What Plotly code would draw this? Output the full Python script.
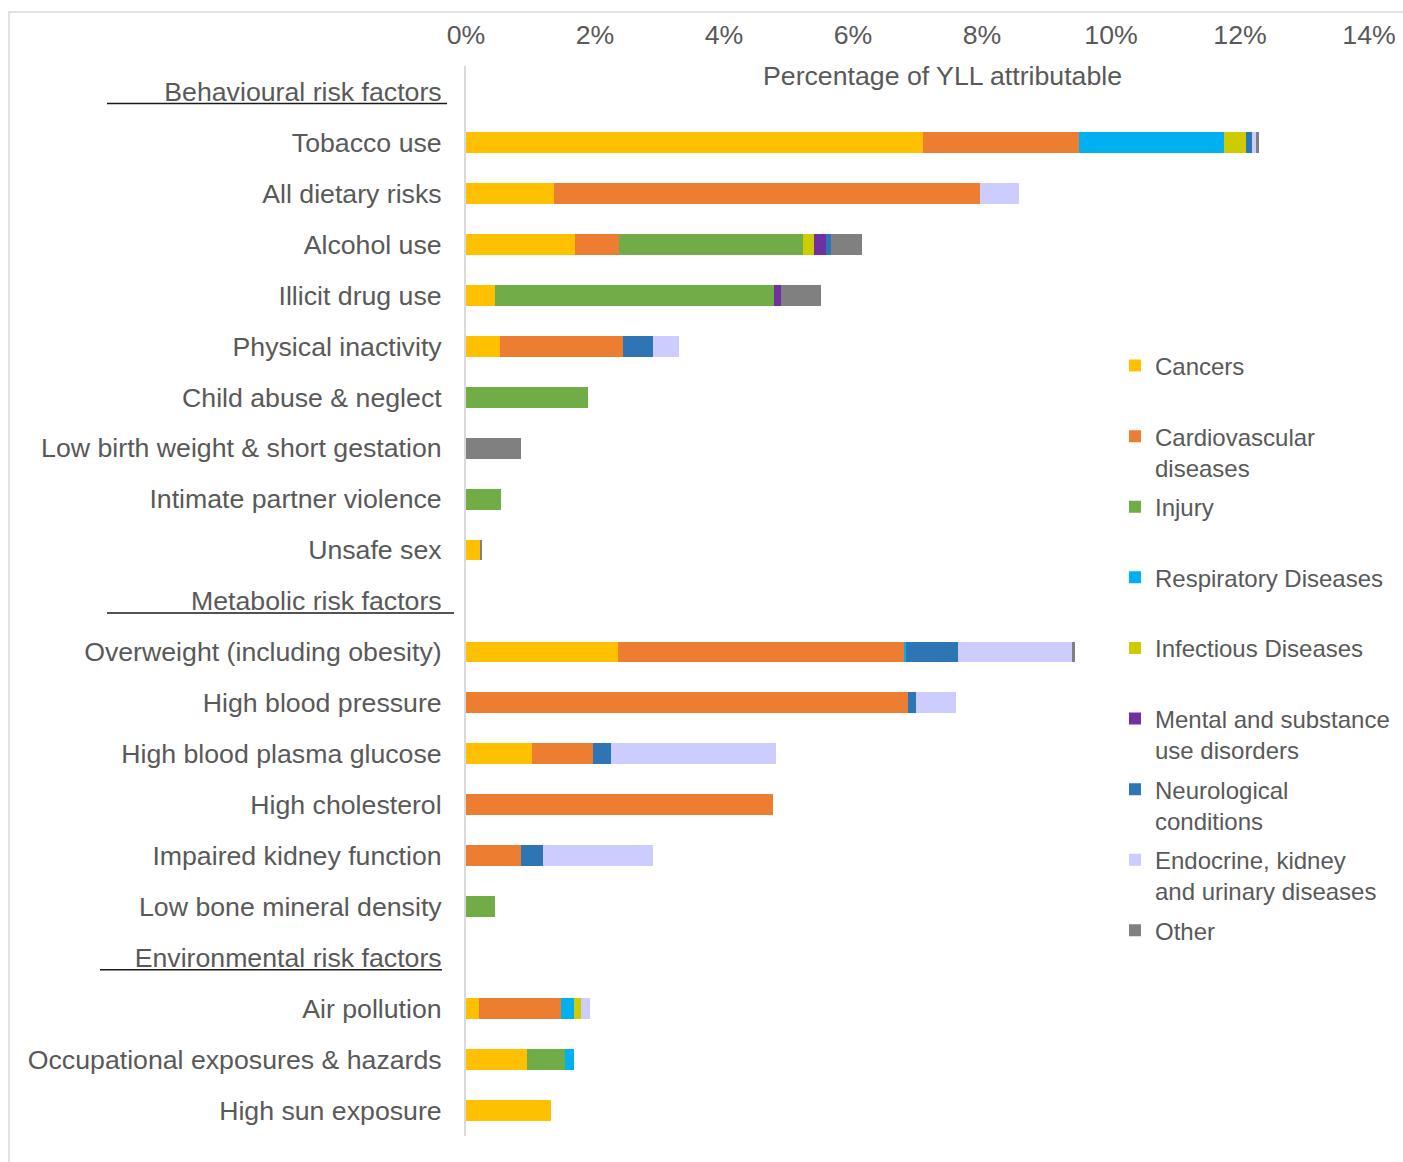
import plotly.graph_objects as go

categories = ["Behavioural risk factors", "Tobacco use", "All dietary risks", "Alcohol use",
              "Illicit drug use", "Physical inactivity", "Child abuse & neglect",
              "Low birth weight & short gestation", "Intimate partner violence", "Unsafe sex",
              "Metabolic risk factors", "Overweight (including obesity)", "High blood pressure",
              "High blood plasma glucose", "High cholesterol", "Impaired kidney function",
              "Low bone mineral density", "Environmental risk factors", "Air pollution",
              "Occupational exposures & hazards", "High sun exposure"]

cancers    = [None, 7.09, 1.37, 1.685, 0.45, 0.52, 0, 0, 0, 0.23, None, 2.36, 0, 1.03, 0, 0, 0, None, 0.20, 0.95, 1.31]
cardio     = [None, 2.42, 6.60, 0.68, 0, 1.92, 0, 0, 0, 0, None, 4.44, 6.86, 0.94, 4.76, 0.86, 0, None, 1.27, 0, 0]
injury     = [None, 0, 0, 2.86, 4.33, 0, 1.89, 0, 0.55, 0, None, 0, 0, 0, 0, 0, 0.45, None, 0, 0.59, 0]
respiratory = [None, 2.24, 0, 0, 0, 0, 0, 0, 0, 0, None, 0.025, 0, 0, 0, 0, 0, None, 0.21, 0.135, 0]
infectious = [None, 0.34, 0, 0.175, 0, 0, 0, 0, 0, 0, None, 0, 0, 0, 0, 0, 0, None, 0.11, 0, 0]
mental     = [None, 0, 0, 0.175, 0.10, 0, 0, 0, 0, 0, None, 0, 0, 0, 0, 0, 0, None, 0, 0, 0]
neuro      = [None, 0.10, 0, 0.08, 0, 0.465, 0, 0, 0, 0, None, 0.80, 0.12, 0.28, 0, 0.33, 0, None, 0, 0, 0]
endocrine  = [None, 0.07, 0.61, 0, 0, 0.39, 0, 0, 0, 0, None, 1.77, 0.62, 2.56, 0, 1.71, 0, None, 0.135, 0, 0]
other      = [None, 0.03, 0, 0.49, 0.62, 0, 0, 0.85, 0, 0.02, None, 0.047, 0, 0, 0, 0, 0, None, 0, 0, 0]

series_names = ["Cancers<br> ", "Cardiovascular<br>diseases", "Injury<br> ", "Respiratory Diseases<br> ",
                "Infectious Diseases<br> ", "Mental and substance<br>use disorders",
                "Neurological<br>conditions", "Endocrine, kidney<br>and urinary diseases", "Other<br> "]
series_values = [cancers, cardio, injury, respiratory, infectious, mental, neuro, endocrine, other]
series_colors = ["#FFC000", "#ED7D31", "#70AD47", "#00B0F0", "#CCCC00", "#7030A0", "#2E75B6", "#CCCCFF", "#808080"]

FONT = "Liberation Sans, Arial, sans-serif"
TXT = "#595959"
FS = 26.7

fig = go.Figure()
for i, (name, vals, col) in enumerate(zip(series_names, series_values, series_colors)):
    fig.add_trace(go.Bar(
        y=categories, x=vals, name=name, orientation="h",
        marker=dict(color=col, line=dict(width=0)),
        legendgroup="g%d" % i,
    ))

shapes = [
    dict(type="rect", xref="paper", yref="paper", x0=-0.5061, x1=1.06, y0=-0.05, y1=1.0504,
         line=dict(color="#d9d9d9", width=1.5), layer="below"),
    dict(type="line", xref="paper", yref="y", x0=-0.3976, x1=-0.0210, y0=0.235, y1=0.235,
         line=dict(color="#1a1a1a", width=1.5)),
    dict(type="line", xref="paper", yref="y", x0=-0.3976, x1=-0.0133, y0=10.235, y1=10.235,
         line=dict(color="#1a1a1a", width=1.5)),
    dict(type="line", xref="paper", yref="y", x0=-0.4053, x1=-0.0266, y0=17.235, y1=17.235,
         line=dict(color="#1a1a1a", width=1.5)),
]

fig.update_layout(
    width=1403, height=1162,
    margin=dict(l=466, r=34, t=65.5, b=25.5, autoexpand=False),
    paper_bgcolor="white", plot_bgcolor="white",
    barmode="stack", bargap=0.59,
    font=dict(family=FONT, size=FS, color=TXT),
    showlegend=True,
    legend=dict(x=0.7187, y=0.7407, xanchor="left", yanchor="top",
                font=dict(family=FONT, size=24, color=TXT),
                valign="top", tracegroupgap=5.2, traceorder="grouped",
                bgcolor="rgba(0,0,0,0)", itemclick=False),
    xaxis=dict(side="top", range=[0, 14], dtick=2, ticksuffix="%", showgrid=False,
               zeroline=False, showline=False, ticks="", ticklabelstandoff=16,
               tickfont=dict(family=FONT, size=FS, color=TXT)),
    yaxis=dict(type="category", categoryorder="array", categoryarray=categories,
               range=[20.5, -0.5], showgrid=False, zeroline=False,
               showline=True, linecolor="#d9d9d9", linewidth=2, ticks="",
               ticklabelstandoff=17,
               tickfont=dict(family=FONT, size=FS, color=TXT)),
    shapes=shapes,
    annotations=[dict(text="Percentage of YLL attributable", xref="paper", yref="paper",
                      x=0.528, y=0.991, xanchor="center", yanchor="middle", showarrow=False,
                      font=dict(family=FONT, size=FS, color=TXT))],
)

fig.write_html("out.html")
